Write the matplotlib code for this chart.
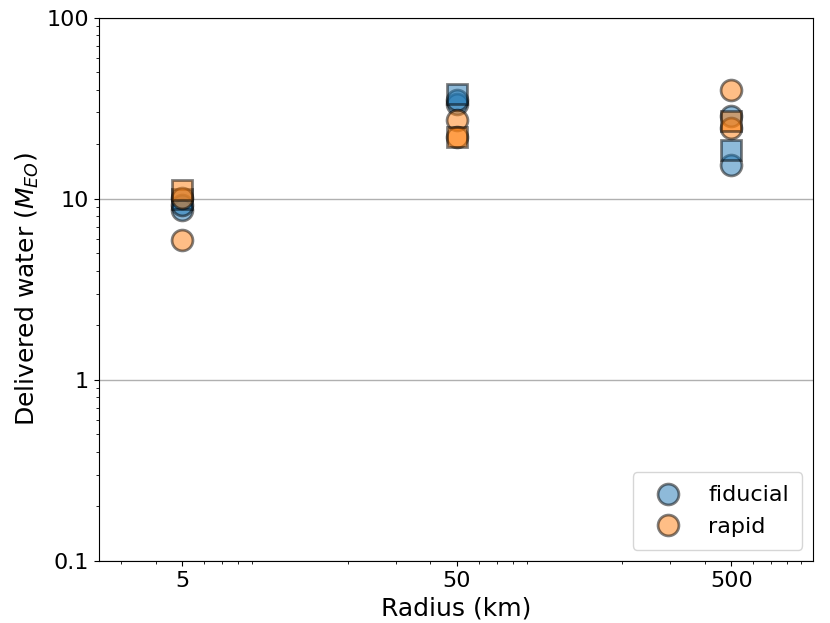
import matplotlib
matplotlib.use("Agg")
import numpy as np
from matplotlib import pyplot as plt

radius = [5, 50, 500]

# fiducial model
fid_circles_5 = [8.7, 9.3]
fid_circles_50 = [33.5, 35.0]
fid_circles_500 = [28.8, 15.4]
fid_squares = [10.0, 38.0, 18.6]

# rapid model
rap_circles_5 = [10.1, 5.9]
rap_circles_50 = [27.3, 22.0]
rap_circles_500 = [40.0, 24.6]
rap_squares = [11.2, 22.0, 27.0]

fig = plt.figure(figsize=(8.3, 6.23), dpi=100)
ax = fig.add_axes([0.119, 0.0995, 0.861, 0.872])

kw = dict(linestyle='none', markersize=15, markeredgewidth=2,
          markeredgecolor='k', alpha=0.5)

def draw(circles, squares, color, label):
    for i, r in enumerate(radius):
        ys = circles[i]
        ax.plot([r] * len(ys), ys, marker='o', color=color,
                label=label if i == 0 else None, **kw)
        ax.plot([r], [squares[i]], marker='s', color=color, **kw)

draw([fid_circles_5, fid_circles_50, fid_circles_500], fid_squares, 'C0', 'fiducial')
draw([rap_circles_5, rap_circles_50, rap_circles_500], rap_squares, 'C1', 'rapid')

ax.set_xscale('log')
ax.set_yscale('log')
ax.set_xlim(2.48, 995)
ax.set_ylim(0.1, 100)
ax.set_xticks(radius)
ax.set_xticklabels(['5', '50', '500'])
ax.set_yticks([0.1, 1, 10, 100])
ax.set_yticklabels(['0.1', '1', '10', '100'])
ax.yaxis.grid(True, which='major', color='#b0b0b0', linewidth=1)
ax.set_axisbelow(True)
ax.tick_params(labelsize=16)

ax.set_xlabel('Radius (km)', fontsize=18)
ax.set_ylabel('Delivered water ($M_{EO}$)', fontsize=18)
ax.legend(loc='lower right', fontsize=16, borderpad=0.6)

fig.savefig('out.png', dpi=100)
